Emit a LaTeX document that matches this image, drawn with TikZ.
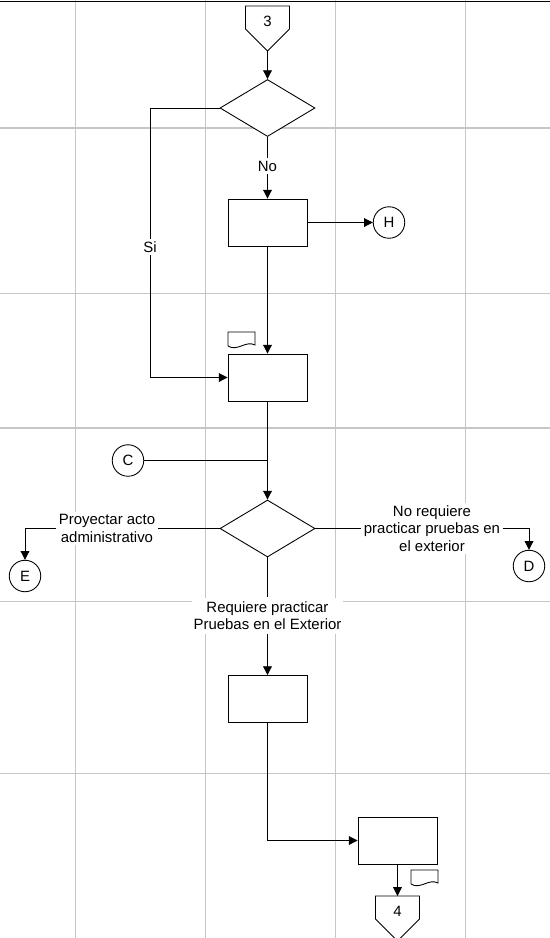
\documentclass[tikz,border=0pt]{standalone}
\usepackage{fontspec}
\setmainfont{Liberation Sans}
\usetikzlibrary{arrows.meta,shapes.geometric}

\begin{document}
\begin{tikzpicture}[x=0.02cm, y=-0.02cm, line width=0.5pt,
  every node/.style={font=\fontsize{8.5}{10}\selectfont},
  caja/.style={draw, fill=white, minimum width=1.58cm, minimum height=0.94cm, inner sep=0pt},
  rombo/.style={draw, fill=white, diamond, minimum width=1.9cm, minimum height=1.14cm, inner sep=0pt},
  conector/.style={draw, fill=white, circle, minimum size=0.63cm, inner sep=0pt},
  etiq/.style={fill=white, align=center, inner sep=1.2pt},
  flecha/.style={-{Triangle[length=5pt,width=5pt]}},
  rejilla/.style={gray!45, line width=0.7pt}]

\useasboundingbox (0,0) rectangle (550,938);

% Сетка
\foreach \x in {75.5, 205.5, 335.5, 465.5}
    \draw[rejilla] (\x,0) -- (\x,938);
\foreach \y in {128, 293.5, 428, 601.5, 773.5}
    \draw[rejilla] (0,\y) -- (550,\y);
\draw[line width=1pt] (0,1.5) -- (550,1.5);

% Соединитель "3"
\draw (245.5,6) -- (289.5,6) -- (289.5,29) -- (267.5,51) -- (245.5,29) -- cycle;
\node (n3) at (267.5,21) {3};
\coordinate (p3) at (267.5,51);

% Блоки
\node[rombo] (d1) at (267.5,108) {};
\node[caja] (b1) at (267.5,222.5) {};
\node[conector] (h) at (389,222.5) {H};
\node[caja] (b2) at (267.5,377.5) {};
\node[conector] (c) at (128,460.5) {C};
\node[rombo] (d2) at (267.5,528.5) {};
\node[conector] (e) at (25,576) {E};
\node[conector] (d) at (529,566) {D};
\node[caja] (b3) at (267.5,699) {};
\node[caja] (b4) at (397.5,840.5) {};

% Соединитель "4"
\draw (375.5,896) -- (419.5,896) -- (419.5,919) -- (397.5,941) -- (375.5,919) -- cycle;
\node (n4) at (397.5,911) {4};
\coordinate (p4) at (397.5,896);

% Документы
\foreach \x/\y in {228/332, 411/870}
    \draw (\x,\y+14) -- (\x,\y) -- (\x+27,\y) -- (\x+27,\y+13)
        .. controls (\x+18,\y+8) and (\x+9,\y+20) .. (\x,\y+14);

% Подписи
\node[etiq] (no) at (267.5,166) {No};
\node[etiq] (si) at (150,247) {Si};
\node[etiq] (lpa) at (107,528.5) {Proyectar acto\\administrativo};
\node[etiq] (lnr) at (432,528.5) {No requiere\\practicar pruebas en\\el exterior};
\node[etiq, minimum width=2.62cm, minimum height=0.72cm] (lreq) at (267.5,615.5)
    {Requiere practicar\\Pruebas en el Exterior};

% Связи
\draw[flecha] (p3) -- (d1);
\draw (d1) -- (no);
\draw[flecha] (no) -- (b1);
\draw (d1.west) -| (si);
\draw[flecha] (si) |- (b2);
\draw[flecha] (b1) -- (h);
\draw[flecha] (b1) -- (b2);
\draw[flecha] (b2) -- (d2);
\draw (c) -- (c -| b2.south);
\draw (d2) -- (lpa);
\draw[flecha] (lpa) -| (e);
\draw (d2) -- (lnr);
\draw[flecha] (lnr) -| (d);
\draw (d2) -- (lreq);
\draw[flecha] (lreq) -- (b3);
\draw[flecha] (b3) |- (b4);
\draw[flecha] (b4) -- (p4);
\end{tikzpicture}
\end{document}
